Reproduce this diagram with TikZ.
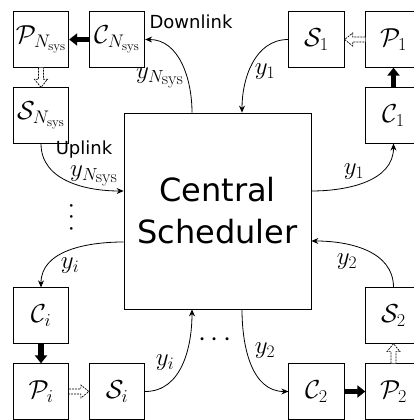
\RequirePackage{fix-cm}
\documentclass[tikz,border=0pt]{standalone}
\usepackage{fontspec}
\newfontfamily\djv{DejaVu Sans}
\usetikzlibrary{arrows.meta,calc}
\begin{document}
\begin{tikzpicture}[x=1pt,y=1pt,
  box/.style={draw,line width=0.8pt,minimum width=55.5pt,minimum height=55.5pt,inner sep=0pt,font=\fontsize{26}{30}\selectfont},
  lbl/.style={inner sep=0pt,font=\fontsize{25}{30}\selectfont},
  link/.style={line width=0.8pt,-{Stealth[length=7pt,width=6pt]}},
  fat/.style={line width=5.5pt,-{Triangle[length=8pt,width=12pt]}},
  hollow/.style={line width=0.7pt,dash pattern=on 2pt off 1pt,fill=white},
  word/.style={font=\djv\fontsize{18}{22}\selectfont,inner sep=0pt}]
\useasboundingbox (0,0) rectangle (414,420);
% boxes
\node[box] (Pn) at (41,380.5) {$\mathcal{P}_{N_{\mathrm{sys}}}$};
\node[box] (Cn) at (117,380.5) {$\mathcal{C}_{N_{\mathrm{sys}}}$};
\node[box] (Sn) at (41,304.5) {$\mathcal{S}_{N_{\mathrm{sys}}}$};
\node[box] (S1) at (316.5,380.5) {$\mathcal{S}_1$};
\node[box] (P1) at (393.5,380.5) {$\mathcal{P}_1$};
\node[box] (C1) at (393.5,304.5) {$\mathcal{C}_1$};
\node[box] (Ci) at (41,104.5) {$\mathcal{C}_i$};
\node[box] (Pi) at (41,28.5) {$\mathcal{P}_i$};
\node[box] (Si) at (117,28.5) {$\mathcal{S}_i$};
\node[box] (C2) at (316.5,28.5) {$\mathcal{C}_2$};
\node[box] (P2) at (393.5,28.5) {$\mathcal{P}_2$};
\node[box] (S2) at (393.5,104.5) {$\mathcal{S}_2$};
\node[draw,line width=0.8pt,minimum width=187pt,minimum height=196pt,align=center,font=\djv\fontsize{32}{42}\selectfont] (cs) at (217.5,209) {Central\\Scheduler};
% curved links
\draw[link] ([xshift=-25.5pt]cs.north) to[out=90,in=0] (Cn.east);
\draw[link] (Sn.south) to[out=-90,in=180] ([yshift=20pt]cs.west);
\draw[link] ([yshift=-31pt]cs.west) to[out=180,in=90] (Ci.north);
\draw[link] (Si.east) to[out=0,in=-90] ([xshift=-25.5pt]cs.south);
\draw[link] ([xshift=24.5pt]cs.south) to[out=-90,in=180] (C2.west);
\draw[link] (S2.north) to[out=90,in=0] ([yshift=-30pt]cs.east);
\draw[link] ([yshift=20pt]cs.east) to[out=0,in=-90] (C1.south);
\draw[link] (S1.west) to[out=180,in=90] ([xshift=24.5pt]cs.north);
% fat arrows
\draw[fat] (Cn.west) -- (Pn.east);
\draw[fat] (C1.north) -- (P1.south);
\draw[fat] (Ci.south) -- (Pi.north);
\draw[fat] (C2.east) -- (P2.west);
% hollow arrows
\draw[hollow] ([xshift=-2.5pt]Pn.south) -- ([xshift=-2.5pt,yshift=8pt]Sn.north) -- ([xshift=-6.5pt,yshift=8pt]Sn.north) -- (Sn.north) -- ([xshift=6.5pt,yshift=8pt]Sn.north) -- ([xshift=2.5pt,yshift=8pt]Sn.north) -- ([xshift=2.5pt]Pn.south);
\draw[hollow] ([yshift=2.5pt]P1.west) -- ([xshift=8pt,yshift=2.5pt]S1.east) -- ([xshift=8pt,yshift=6.5pt]S1.east) -- (S1.east) -- ([xshift=8pt,yshift=-6.5pt]S1.east) -- ([xshift=8pt,yshift=-2.5pt]S1.east) -- ([yshift=-2.5pt]P1.west);
\draw[hollow] ([yshift=2.5pt]Pi.east) -- ([xshift=-8pt,yshift=2.5pt]Si.west) -- ([xshift=-8pt,yshift=6.5pt]Si.west) -- (Si.west) -- ([xshift=-8pt,yshift=-6.5pt]Si.west) -- ([xshift=-8pt,yshift=-2.5pt]Si.west) -- ([yshift=-2.5pt]Pi.east);
\draw[hollow] ([xshift=-2.5pt]P2.north) -- ([xshift=-2.5pt,yshift=-8pt]S2.south) -- ([xshift=-6.5pt,yshift=-8pt]S2.south) -- (S2.south) -- ([xshift=6.5pt,yshift=-8pt]S2.south) -- ([xshift=2.5pt,yshift=-8pt]S2.south) -- ([xshift=2.5pt]P2.north);
% labels
\node[lbl] (ld) at (160,342) {$y_{N_{\scriptstyle\mathrm{sys}}}$};
\node[lbl] (lu) at (94,244) {$y_{N_{\scriptstyle\mathrm{sys}}}$};
\node[lbl] (la) at (265,348) {$y_1$};
\node[lbl] (lb) at (354,248) {$y_1$};
\node[lbl] (lc) at (347,158) {$y_2$};
\node[lbl] (le) at (265,69) {$y_2$};
\node[lbl] (lf) at (70,154) {$y_i$};
\node[lbl] (lg) at (165,57) {$y_i$};
\node[word] (dl) at (191,398) {Downlink};
\node[word] (ul) at (84,270) {Uplink};
\node[inner sep=0pt,rotate=90,font=\fontsize{26}{30}\selectfont] (vd) at (72,203) {$\cdots$};
\node[inner sep=0pt,font=\fontsize{29}{30}\selectfont] (cd) at (215,80) {$\cdots$};
\end{tikzpicture}
\end{document}
